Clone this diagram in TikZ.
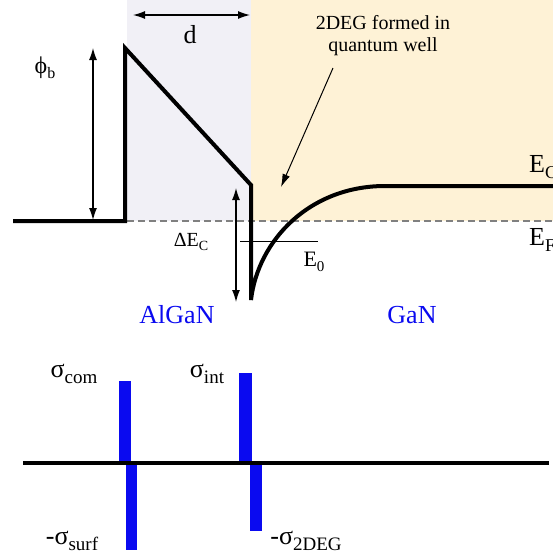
\documentclass[tikz,border=0pt]{standalone}
\usepackage{fontspec}
\setmainfont{Liberation Serif}
\newfontfamily\figfont{Liberation Serif}
\usetikzlibrary{arrows.meta}
\definecolor{alganbg}{HTML}{F1F0F6}
\definecolor{ganbg}{HTML}{FEF2D6}
\definecolor{chargeblue}{HTML}{0A0AF0}
\newcommand{\lowsub}[2][15]{\raisebox{-0.22em}{\fontsize{#1}{#1}\selectfont #2}}
\begin{document}
\begin{tikzpicture}[x=1pt,y=-1pt,
  every node/.style={font=\figfont\fontsize{20}{22}\selectfont, inner sep=0pt},
  biglabel/.style={font=\figfont\fontsize{26}{28}\selectfont},
  band/.style={line width=4pt, line join=miter},
  dimarrow/.style={line width=1.2pt, {Latex[length=12pt,width=8pt]}-{Latex[length=12pt,width=8pt]}},
  chargebar/.style={fill=chargeblue}]
\useasboundingbox (0,0) rectangle (553,558);
\fill[alganbg] (127,0) rectangle (251,221);
\fill[ganbg] (251,0) rectangle (553,221);
\draw[gray, line width=1.3pt, dash pattern=on 7pt off 4pt] (127,221) -- (553,221);
% conduction band
\coordinate (metal) at (13,221);
\coordinate (barbot) at (125,221);
\coordinate (bartop) at (125,48);
\coordinate (hetero) at (251,185);
\coordinate (wellbot) at (251,300);
\coordinate (flat) at (385,186);
\coordinate (bulk) at (560,186);
\draw[band] (metal) -- (barbot) -- (bartop) -- (hetero) -- (wellbot)
  .. controls (258,240) and (310,186) .. (flat) -- (bulk);
\coordinate (eoleft) at (240,241);
\coordinate (eoright) at (318,241);
\draw[line width=1pt] (eoleft) -- (eoright);
% dimensions
\coordinate (dleft) at (133,15);
\coordinate (dright) at (250,15);
\draw[dimarrow] (dleft) -- (dright);
\node[biglabel] (dlabel) at (190,35) {d};
\coordinate (phitop) at (93,48);
\coordinate (phibot) at (93,220);
\draw[dimarrow] (phitop) -- (phibot);
\node[font=\figfont\fontsize{24}{26}\selectfont] (phib) at (45,68) {ϕ\lowsub[16]{b}};
\coordinate (dectop) at (236,188);
\coordinate (decbot) at (236,302);
\draw[dimarrow] (dectop) -- (decbot);
\node (dec) at (191,242) {ΔE\lowsub[14]{C}};
\node[font=\figfont\fontsize{22}{24}\selectfont] (eo) at (314,262) {E\lowsub[15]{0}};
\node[biglabel, anchor=west] (ec) at (529,167) {E\lowsub[18]{C}};
\node[biglabel, anchor=west] (ef) at (529,240) {E\lowsub[18]{F}};
% 2DEG
\node[align=center] (deg) at (383,36) {2DEG formed in\\quantum well};
\coordinate (degtip) at (281,187);
\draw[line width=1pt, -{Latex[length=13pt,width=8pt]}] (333,68) -- (degtip);
\node[biglabel, text=chargeblue] (algan) at (177,315) {AlGaN};
\node[biglabel, text=chargeblue] (gan) at (412,315) {GaN};
% charges
\coordinate (axleft) at (23,463);
\coordinate (axright) at (549,463);
\fill[chargebar] (119,381) rectangle (131,463);
\fill[chargebar] (126,463) rectangle (137,550);
\fill[chargebar] (239,373) rectangle (252,463);
\fill[chargebar] (250,463) rectangle (262,531);
\draw[line width=4.5pt] (axleft) -- (axright);
\node[biglabel] (scom) at (74,374) {σ\lowsub[19]{com}};
\node[biglabel] (sint) at (207,374) {σ\lowsub[19]{int}};
\node[biglabel] (ssurf) at (72,541) {-σ\lowsub[19]{surf}};
\node[biglabel] (sdeg) at (306,541) {-σ\lowsub[19]{2DEG}};
\end{tikzpicture}
\end{document}
